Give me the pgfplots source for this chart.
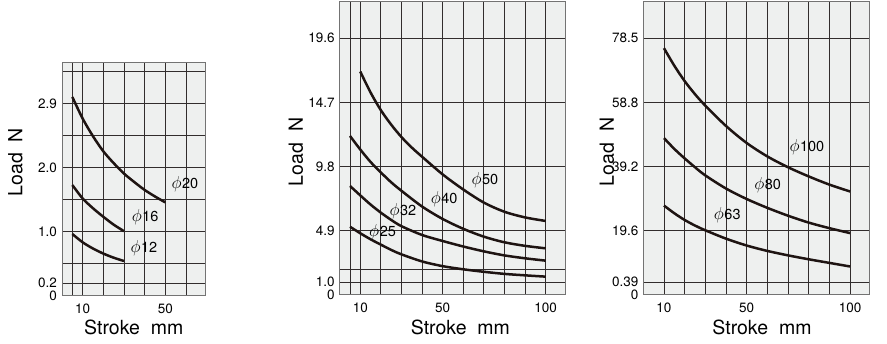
\documentclass[border=0pt]{standalone}
\usepackage{fontspec}
\setmainfont{TeX Gyre Heros}
\usepackage{pgfplots}
\pgfplotsset{compat=1.18}
\definecolor{bgc}{RGB}{238,240,239}
\definecolor{crvc}{RGB}{30,20,18}
\definecolor{grd}{RGB}{50,45,45}
\newcommand{\dia}{{\fontsize{17.5}{18}\selectfont$\phi$}\kern0.5pt}
\tikzset{phl/.style={font=\fontsize{14.5}{16}\selectfont, inner sep=0pt, anchor=center}}
\pgfplotsset{
 panel/.style={
  scale only axis,
  axis background/.style={fill=bgc},
  axis line style={draw=black!55, line width=1pt},
  major tick length=0pt, minor tick length=0pt,
  xminorgrids, yminorgrids, xmajorgrids=false, ymajorgrids=false,
  minor grid style={draw=grd, line width=0.85pt},
  ticklabel style={font=\fontsize{13.5}{15}\selectfont},
  xticklabel style={yshift=-4pt},
  yticklabel style={xshift=-1.5pt},
  label style={font=\fontsize{19.5}{22}\selectfont},
  clip=false,
 },
 crv/.style={draw=crvc, line width=2.5pt, smooth, mark=none, line cap=butt},
}
\begin{document}
\begin{tikzpicture}
\useasboundingbox (0,0) rectangle (887pt,344pt);
% Panel 1
\begin{axis}[panel, at={(62pt,48pt)}, anchor=south west,
  width=143pt, height=233.7pt,
  xmin=0, xmax=69.2, ymin=0, ymax=3.57,
  xtick={10,50}, xticklabels={10,50},
  minor xtick={5,10,20,30,40,50,60},
  ytick={0,0.196,0.98,1.96,2.94}, yticklabels={0,0.2,1.0,2.0,2.9},
  minor ytick={0.196,0.49,0.98,1.47,1.96,2.45,2.94,3.43},
  xlabel={Stroke~~mm}, ylabel={Load~~N},
  xlabel style={at={(axis description cs:0.502,-0.133)}, anchor=center},
  ylabel style={at={(axis description cs:-0.325,0.573)}, anchor=center},
]
\addplot[crv] coordinates {(5,3.04)(10,2.71)(15,2.44)(20,2.21)(25,2.03)(30,1.87)(35,1.74)(40,1.62)(45,1.52)(50,1.43)};
\addplot[crv] coordinates {(5,1.695)(10,1.49)(15,1.34)(20,1.21)(25,1.09)(30,0.99)};
\addplot[crv] coordinates {(5,0.947)(10,0.82)(15,0.725)(20,0.648)(25,0.585)(30,0.534)};
\node[phl] at (axis cs:59.5,1.71) {\dia20};
\node[phl] at (axis cs:40.2,1.21) {\dia16};
\node[phl] at (axis cs:39.6,0.736) {\dia12};
\end{axis}
% Panel 2
\begin{axis}[panel, at={(339.7pt,49pt)}, anchor=south west,
  width=225.6pt, height=293.5pt,
  xmin=0, xmax=109.5, ymin=0, ymax=22.4,
  xtick={10,50,100}, xticklabels={10,50,100},
  minor xtick={5,10,20,30,40,50,60,70,80,90,100},
  ytick={0,0.98,4.9,9.8,14.7,19.6}, yticklabels={0,1.0,4.9,9.8,14.7,19.6},
  minor ytick={0.98,1.96,4.9,9.8,14.7,19.6},
  xlabel={Stroke~~mm}, ylabel={Load~~N},
  xlabel style={at={(axis description cs:0.535,-0.112)}, anchor=center},
  ylabel style={at={(axis description cs:-0.194,0.487)}, anchor=center},
]
\addplot[crv] coordinates {(10,17.05)(15,15.45)(20,14.1)(25,13.0)(30,12.05)(35,11.25)(40,10.55)(50,9.2)(60,8.05)(70,7.05)(80,6.35)(90,5.92)(100,5.65)};
\addplot[crv] coordinates {(5,12.14)(10,11.1)(15,10.15)(20,9.35)(25,8.6)(30,7.95)(40,6.75)(50,5.8)(60,5.05)(70,4.45)(80,4.02)(90,3.75)(100,3.56)};
\addplot[crv] coordinates {(5,8.32)(10,7.6)(15,6.9)(20,6.28)(25,5.73)(30,5.25)(40,4.58)(50,4.12)(60,3.7)(70,3.33)(80,3.02)(90,2.8)(100,2.62)};
\addplot[crv] coordinates {(5,5.21)(10,4.71)(15,4.25)(20,3.84)(25,3.44)(30,3.1)(40,2.56)(50,2.2)(60,1.96)(70,1.77)(80,1.61)(90,1.5)(100,1.4)};
\node[phl] at (axis cs:70.5,8.78) {\dia50};
\node[phl] at (axis cs:50.7,7.35) {\dia40};
\node[phl] at (axis cs:30.7,6.4) {\dia32};
\node[phl] at (axis cs:20.8,4.77) {\dia25};
\end{axis}
% Panel 3
\begin{axis}[panel, at={(643.3pt,49pt)}, anchor=south west,
  width=226pt, height=293.5pt,
  xmin=0, xmax=109.3, ymin=0, ymax=89.6,
  xtick={10,50,100}, xticklabels={10,50,100},
  minor xtick={10,20,30,40,50,60,70,80,90,100},
  ytick={0,3.92,19.6,39.2,58.8,78.4}, yticklabels={0,0.39,19.6,39.2,58.8,78.5},
  minor ytick={3.92,19.6,39.2,58.8,78.4},
  xlabel={Stroke~~mm}, ylabel={Load~~N},
  xlabel style={at={(axis description cs:0.525,-0.112)}, anchor=center},
  ylabel style={at={(axis description cs:-0.161,0.487)}, anchor=center},
]
\addplot[crv] coordinates {(10,75.35)(15,70.0)(20,65.3)(25,61.3)(30,57.8)(40,51.6)(50,46.4)(60,42.3)(70,39.0)(80,36.2)(90,33.7)(100,31.6)};
\addplot[crv] coordinates {(10,47.9)(15,44.6)(20,41.7)(25,39.0)(30,36.5)(40,32.5)(50,29.3)(60,26.6)(70,24.2)(80,22.1)(90,20.4)(100,18.9)};
\addplot[crv] coordinates {(10,27.3)(15,24.95)(20,22.9)(25,21.2)(30,19.75)(40,17.2)(50,15.1)(60,13.45)(70,12.1)(80,10.9)(90,9.8)(100,8.7)};
\node[phl] at (axis cs:79.1,45.0) {\dia100};
\node[phl] at (axis cs:60.1,33.5) {\dia80};
\node[phl] at (axis cs:40.6,24.4) {\dia63};
\end{axis}
\end{tikzpicture}
\end{document}
